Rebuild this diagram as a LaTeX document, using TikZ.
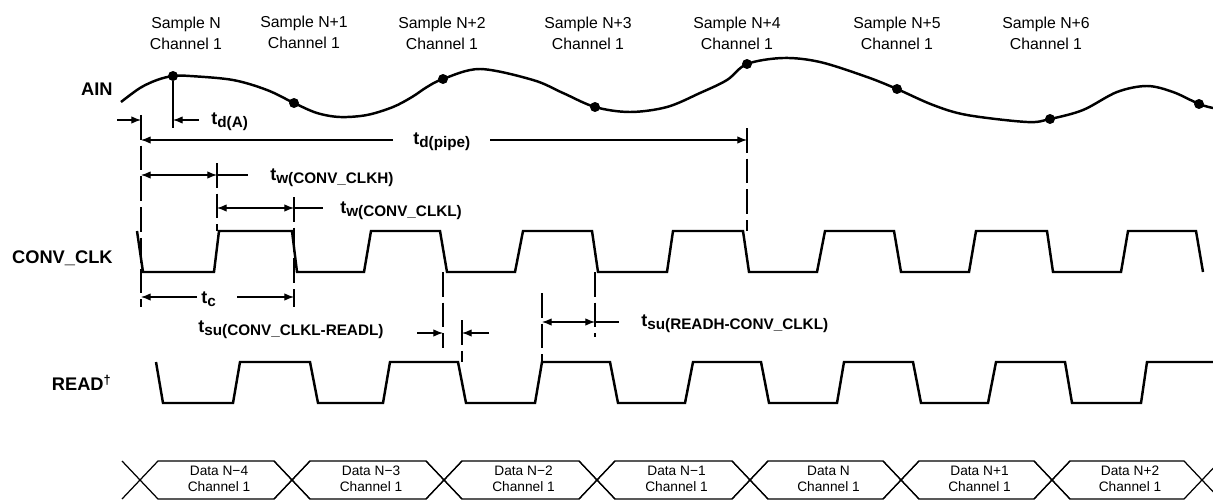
\documentclass[tikz,border=0pt]{standalone}
\usepackage{fontspec}
\setmainfont{Liberation Sans}
\usetikzlibrary{arrows.meta}

\newcommand{\tlab}[1]{\bfseries\fontsize{10.2}{12}\selectfont t\raisebox{-1.6pt}{\fontsize{8.7}{10}\selectfont #1}}

\begin{document}
\begin{tikzpicture}[x=0.02cm, y=-0.02cm,
        wave/.style={line width=1.4pt, line join=miter},
        bus/.style={line width=0.7pt},
        dim/.style={line width=0.6pt},
        dimarrow/.style={line width=0.6pt, -{Latex[length=5.5pt,width=4.2pt]}},
        dimboth/.style={line width=0.6pt, {Latex[length=5.5pt,width=4.2pt]}-{Latex[length=5.5pt,width=4.2pt]}},
        guide/.style={line width=0.6pt, dash pattern=on 14pt off 3.5pt},
        sig/.style={anchor=east, inner sep=0pt, font=\fontsize{10.4}{12}\selectfont\bfseries},
        tlabel/.style={anchor=west, inner sep=0pt},
        sample/.style={align=center, inner sep=0pt, font=\fontsize{9}{12}\selectfont},
        data/.style={align=center, inner sep=0pt, font=\fontsize{7.8}{8.8}\selectfont},
        dot/.style={circle, fill, inner sep=0pt, minimum size=0.2cm}]
    \useasboundingbox (0,0) rectangle (1213,500);

    \foreach \x/\y/\n [count=\i] in {186/33/N, 304/32/N+1, 442/33/N+2, 588/33/N+3,
            737/33/N+4, 897/33/N+5, 1046/33/N+6}
        \node[sample] (sample\i) at (\x,\y) {Sample \n\\Channel 1};

    \node[sig] (ain) at (113,89) {AIN};
    \node[sig] (clk) at (113,258) {CONV\_CLK};
    \node[sig] (read) at (112,383) {READ\textsuperscript{†}};

    \draw[wave] plot[smooth, tension=0.55] coordinates {(121,102) (140,88) (157,80) (173,76)
        (190,76) (233,80) (267,90) (294,103) (317,113) (340,117) (367,115) (393,107)
        (412,97) (427,87) (443,79) (480,69) (533,80) (563,93) (595,107) (630,112)
        (667,107) (700,93) (727,80) (747,64) (783,58) (820,62) (867,77) (897,89)
        (933,105) (967,115) (1027,122) (1050,119) (1083,110) (1117,92) (1147,86)
        (1173,92) (1199,104) (1213,108)};
    \foreach \x/\y [count=\i] in {173/76, 294/103, 443/79, 595/107, 747/64, 897/89,
            1050/119, 1199/104}
        \node[dot] (pt\i) at (\x,\y) {};

    \draw[wave] (137,231) -- (143,272) -- (214,272) -- (219,231) -- (292,231) -- (297,272)
        -- (364,272) -- (371,231) -- (440,231) -- (447,272) -- (515,272) -- (523,231)
        -- (592,231) -- (598,272) -- (667,272) -- (673,231) -- (743,231) -- (749,272)
        -- (817,272) -- (825,231) -- (894,231) -- (901,272) -- (969,272) -- (976,231)
        -- (1047,231) -- (1053,272) -- (1121,272) -- (1128,231) -- (1196,231) -- (1203,272);

    \draw[wave] (156,362) -- (163,403) -- (233,403) -- (240,362) -- (310,362) -- (318,403)
        -- (383,403) -- (390,362) -- (458,362) -- (466,403) -- (535,403) -- (542,362)
        -- (610,362) -- (618,403) -- (685,403) -- (693,362) -- (761,362) -- (769,403)
        -- (837,403) -- (844,362) -- (913,362) -- (921,403) -- (988,403) -- (996,362)
        -- (1065,362) -- (1072,403) -- (1141,403) -- (1147,362) -- (1213,362);

    \foreach \a/\b/\n [count=\i] in {140/292/N−4, 292/444/N−3, 444/597/N−2, 597/750/N−1,
            750/901/N, 901/1052/N+1, 1052/1202/N+2} {
        \draw[bus] ({\a-18},461) -- ({\a+18},499) -- ({\b-18},499) -- ({\b+18},461);
        \draw[bus] ({\a-18},499) -- ({\a+18},461) -- ({\b-18},461) -- ({\b+18},499);
        \node[data] (data\i) at ({(\a+\b)/2+3},479) {Data \n\\Channel 1};
    }

    \coordinate (gA1) at (141,115);
    \coordinate (gA2) at (141,307);
    \coordinate (gB) at (173,128);
    \coordinate (gC1) at (217,163);
    \coordinate (gC2) at (217,231);
    \coordinate (gD1) at (294,197);
    \coordinate (gD2) at (294,307);
    \coordinate (gE1) at (747,128);
    \coordinate (gE2) at (747,231);
    \coordinate (gF1) at (443,272);
    \coordinate (gF2) at (443,348);
    \coordinate (gG1) at (462,320);
    \coordinate (gG2) at (462,362);
    \coordinate (gH1) at (542,293);
    \coordinate (gH2) at (542,362);
    \coordinate (gI1) at (595,272);
    \coordinate (gI2) at (595,337);
    \draw[guide] (gA1) -- (gA2);
    \draw[dim] (pt1) -- (gB);
    \draw[guide] (gC1) -- (gC2);
    \draw[guide] (gD1) -- (gD2);
    \draw[guide] (gE1) -- (gE2);
    \draw[guide] (gF1) -- (gF2);
    \draw[guide] (gG1) -- (gG2);
    \draw[guide] (gH1) -- (gH2);
    \draw[guide] (gI1) -- (gI2);

    \coordinate (a1) at (117,120);
    \coordinate (a2) at (141,120);
    \coordinate (a3) at (199,120);
    \coordinate (a4) at (173,120);
    \draw[dimarrow] (a1) -- (a2);
    \draw[dimarrow] (a3) -- (a4);
    \node[tlabel] (tdA) at (211,122) {\tlab{d(A)}};

    \coordinate (p1) at (393,140);
    \coordinate (p2) at (141,140);
    \coordinate (p3) at (490,140);
    \coordinate (p4) at (747,140);
    \draw[dimarrow] (p1) -- (p2);
    \draw[dimarrow] (p3) -- (p4);
    \node[tlabel] (tdpipe) at (413,142) {\tlab{d(pipe)}};

    \coordinate (h1) at (141,175);
    \coordinate (h2) at (217,175);
    \coordinate (h3) at (248,175);
    \draw[dimboth] (h1) -- (h2);
    \draw[dim] (h2) -- (h3);
    \node[tlabel] (twH) at (270,178) {\tlab{w(CONV\_CLKH)}};

    \coordinate (l1) at (217,208);
    \coordinate (l2) at (294,208);
    \coordinate (l3) at (323,208);
    \draw[dimboth] (l1) -- (l2);
    \draw[dim] (l2) -- (l3);
    \node[tlabel] (twL) at (340,211) {\tlab{w(CONV\_CLKL)}};

    \coordinate (c1) at (197,297);
    \coordinate (c2) at (141,297);
    \coordinate (c3) at (237,297);
    \coordinate (c4) at (294,297);
    \draw[dimarrow] (c1) -- (c2);
    \draw[dimarrow] (c3) -- (c4);
    \node[tlabel] (tc) at (201,299) {\tlab{c}};

    \coordinate (s1) at (417,333);
    \coordinate (s2) at (443,333);
    \coordinate (s3) at (489,333);
    \coordinate (s4) at (462,333);
    \draw[dimarrow] (s1) -- (s2);
    \draw[dimarrow] (s3) -- (s4);
    \node[tlabel] (tsuA) at (198,330) {\tlab{su(CONV\_CLKL-READL)}};

    \coordinate (r1) at (542,322);
    \coordinate (r2) at (595,322);
    \coordinate (r3) at (619,322);
    \draw[dimboth] (r1) -- (r2);
    \draw[dim] (r2) -- (r3);
    \node[tlabel] (tsuB) at (641,324) {\tlab{su(READH-CONV\_CLKL)}};
\end{tikzpicture}
\end{document}
